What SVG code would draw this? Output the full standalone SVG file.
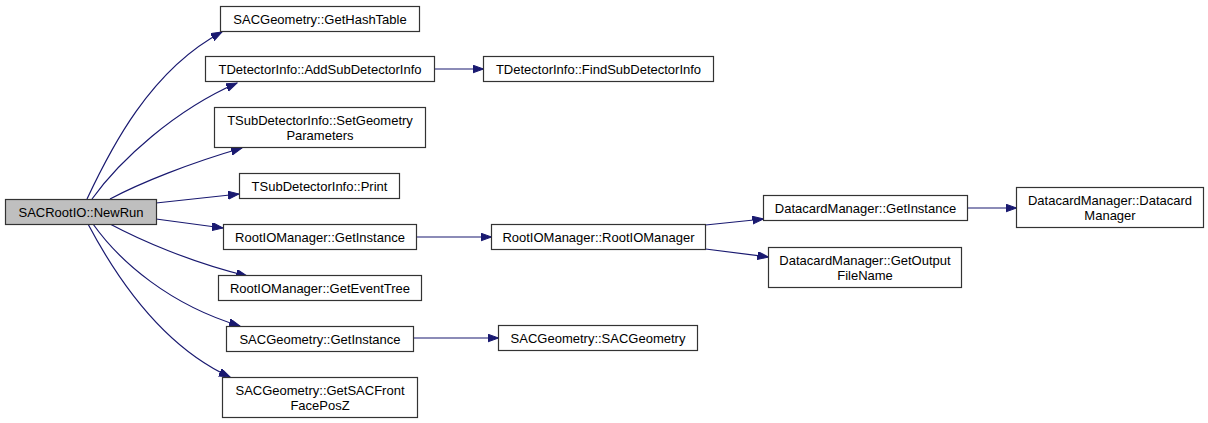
<svg xmlns="http://www.w3.org/2000/svg" width="1208" height="423" viewBox="0 0 1208 423">
<style>
.box{fill:#ffffff;stroke:#333333;stroke-width:1.2}
.root{fill:#bfbfbf;stroke:#333333;stroke-width:1.2}
text{font-family:"Liberation Sans",Arial,Helvetica,sans-serif;font-size:13px;fill:#000000;text-anchor:middle}
.edge{fill:none;stroke:#191970;stroke-width:1.2}
</style>
<defs>
<marker id="arr" markerUnits="userSpaceOnUse" markerWidth="12" markerHeight="9" refX="11" refY="4" orient="auto">
<path d="M0,0 L11,4 L0,8 z" fill="#191970" stroke="#191970" stroke-width="1"/>
</marker>
</defs>
<rect width="1208" height="423" fill="#ffffff"/>
<g id="edges">
<path class="edge" marker-end="url(#arr)" d="M87,199 C110,150 150,70 222,32"/>
<path class="edge" marker-end="url(#arr)" d="M92,199 C120,160 175,110 237,83"/>
<path class="edge" marker-end="url(#arr)" d="M110,199 C140,183 190,163 242,148"/>
<path class="edge" marker-end="url(#arr)" d="M156,203 L239,194"/>
<path class="edge" marker-end="url(#arr)" d="M156,219 L223,228"/>
<path class="edge" marker-end="url(#arr)" d="M110,224 C140,240 190,262 247,276"/>
<path class="edge" marker-end="url(#arr)" d="M93,224 C120,262 170,305 240,326"/>
<path class="edge" marker-end="url(#arr)" d="M88,224 C115,275 160,345 230,377"/>
<path class="edge" marker-end="url(#arr)" d="M434.5,69 L483.5,69"/>
<path class="edge" marker-end="url(#arr)" d="M416.5,237 L491.5,237"/>
<path class="edge" marker-end="url(#arr)" d="M705.5,225 L763.5,219"/>
<path class="edge" marker-end="url(#arr)" d="M705.5,249 L768.5,257"/>
<path class="edge" marker-end="url(#arr)" d="M967.5,208 L1016.5,208"/>
<path class="edge" marker-end="url(#arr)" d="M413.5,338 L498.5,338"/>
</g>
<g id="node-newrun"><rect class="root" x="5.5" y="199.5" width="151" height="25"/><text x="81" y="216.5">SACRootIO::NewRun</text></g>
<g id="node-gethashtable"><rect class="box" x="220.5" y="6.5" width="199" height="25"/><text x="320" y="23.5">SACGeometry::GetHashTable</text></g>
<g id="node-addsub"><rect class="box" x="205.5" y="56.5" width="229" height="25"/><text x="320" y="73.5">TDetectorInfo::AddSubDetectorInfo</text></g>
<g id="node-findsub"><rect class="box" x="483.5" y="56.5" width="230" height="25"/><text x="598.5" y="73.5">TDetectorInfo::FindSubDetectorInfo</text></g>
<g id="node-setgeom"><rect class="box" x="214.5" y="107.5" width="211" height="40"/><text x="320" y="124.5">TSubDetectorInfo::SetGeometry</text><text x="320" y="139.5">Parameters</text></g>
<g id="node-print"><rect class="box" x="239.5" y="173.5" width="160" height="25"/><text x="319.5" y="190.5">TSubDetectorInfo::Print</text></g>
<g id="node-rootio-getinstance"><rect class="box" x="223.5" y="224.5" width="193" height="25"/><text x="320" y="241.5">RootIOManager::GetInstance</text></g>
<g id="node-geteventtree"><rect class="box" x="218.5" y="275.5" width="203" height="25"/><text x="320" y="292.5">RootIOManager::GetEventTree</text></g>
<g id="node-sacgeom-getinstance"><rect class="box" x="226.5" y="326.5" width="187" height="25"/><text x="320" y="343.5">SACGeometry::GetInstance</text></g>
<g id="node-getsacfront"><rect class="box" x="222.5" y="377.5" width="195" height="40"/><text x="320" y="394.5">SACGeometry::GetSACFront</text><text x="320" y="409.5">FacePosZ</text></g>
<g id="node-rootiomanager"><rect class="box" x="491.5" y="224.5" width="214" height="25"/><text x="598.5" y="241.5">RootIOManager::RootIOManager</text></g>
<g id="node-sacgeometry"><rect class="box" x="498.5" y="325.5" width="199" height="25"/><text x="598" y="342.5">SACGeometry::SACGeometry</text></g>
<g id="node-datacard-getinstance"><rect class="box" x="763.5" y="195.5" width="204" height="25"/><text x="865.5" y="212.5">DatacardManager::GetInstance</text></g>
<g id="node-datacardmanager"><rect class="box" x="1016.5" y="187.5" width="187" height="40"/><text x="1110" y="204.5">DatacardManager::Datacard</text><text x="1110" y="219.5">Manager</text></g>
<g id="node-getoutputfilename"><rect class="box" x="768.5" y="247.5" width="193" height="40"/><text x="865" y="264.5">DatacardManager::GetOutput</text><text x="865" y="279.5">FileName</text></g>
</svg>
